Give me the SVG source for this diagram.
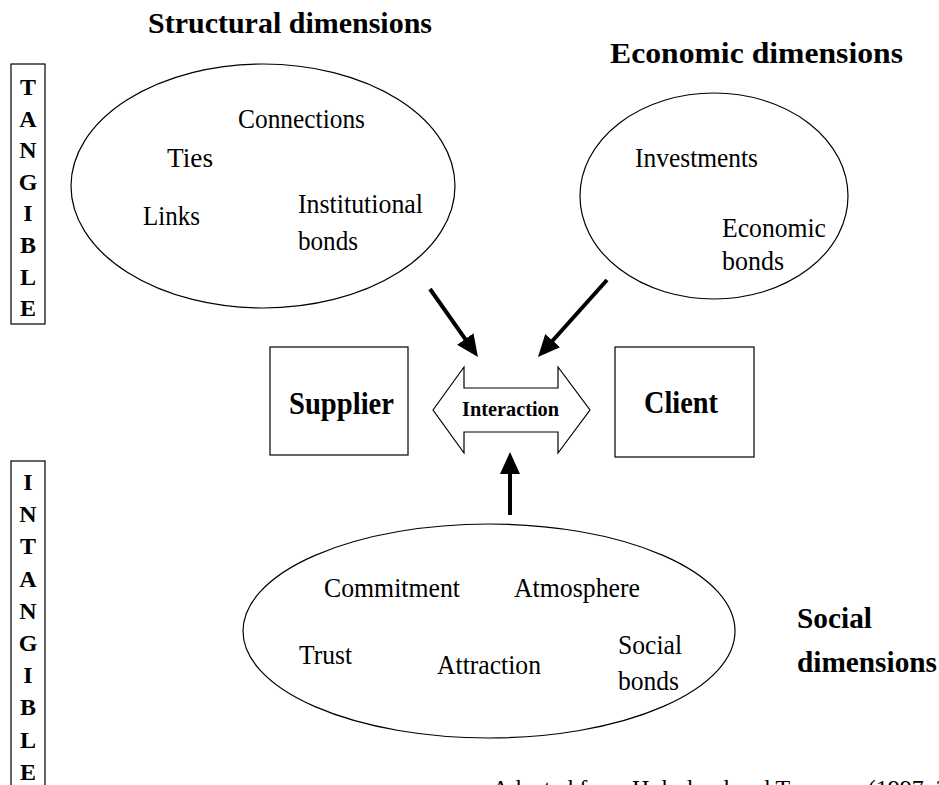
<svg xmlns="http://www.w3.org/2000/svg" width="939" height="785" viewBox="0 0 939 785">
  <style>
    .bg { fill: #ffffff; }
    .shape { fill: #ffffff; stroke: #000000; stroke-width: 1.2; }
    .txt { font-family: "Liberation Serif", "Times New Roman", serif; font-size: 28px; fill: #000000; }
    .bold { font-family: "Liberation Serif", "Times New Roman", serif; font-weight: bold; fill: #000000; }
    .head { font-size: 30px; }
    .box { font-size: 31px; }
    .side { font-size: 24px; text-anchor: middle; }
    .conn { stroke: #000000; stroke-width: 4; fill: none; }
    .note { font-family: "Liberation Serif", "Times New Roman", serif; font-size: 24px; fill: #000000; }
  </style>
  <defs>
    <marker id="arrowhead" markerUnits="userSpaceOnUse" markerWidth="24" markerHeight="22" refX="12" refY="10" orient="auto">
      <path d="M0,0 L22,10 L0,20 z" fill="#000000"/>
    </marker>
  </defs>

  <rect class="bg" x="0" y="0" width="939" height="785"/>

  <!-- side labels -->
  <g id="tangible">
    <rect class="shape" x="11" y="64" width="34" height="260"/>
    <text class="bold side" x="28" y="95">T</text>
    <text class="bold side" x="28" y="126.6">A</text>
    <text class="bold side" x="28" y="158.2">N</text>
    <text class="bold side" x="28" y="189.8">G</text>
    <text class="bold side" x="28" y="221.4">I</text>
    <text class="bold side" x="28" y="253">B</text>
    <text class="bold side" x="28" y="284.6">L</text>
    <text class="bold side" x="28" y="316.2">E</text>
  </g>

  <g id="intangible">
    <rect class="shape" x="11" y="461" width="34" height="340"/>
    <text class="bold side" x="28" y="490">I</text>
    <text class="bold side" x="28" y="522.2">N</text>
    <text class="bold side" x="28" y="554.4">T</text>
    <text class="bold side" x="28" y="586.6">A</text>
    <text class="bold side" x="28" y="618.8">N</text>
    <text class="bold side" x="28" y="651">G</text>
    <text class="bold side" x="28" y="683.2">I</text>
    <text class="bold side" x="28" y="715.4">B</text>
    <text class="bold side" x="28" y="747.6">L</text>
    <text class="bold side" x="28" y="779.6">E</text>
  </g>

  <!-- structural dimensions -->
  <g id="structural">
    <text class="bold head" x="148" y="33" textLength="284" lengthAdjust="spacingAndGlyphs">Structural dimensions</text>
    <ellipse class="shape" cx="263" cy="186" rx="192" ry="122"/>
    <text class="txt" x="238" y="128" textLength="127" lengthAdjust="spacingAndGlyphs">Connections</text>
    <text class="txt" x="167" y="167" textLength="46" lengthAdjust="spacingAndGlyphs">Ties</text>
    <text class="txt" x="143" y="225" textLength="57" lengthAdjust="spacingAndGlyphs">Links</text>
    <text class="txt" x="298" y="213" textLength="125" lengthAdjust="spacingAndGlyphs">Institutional</text>
    <text class="txt" x="298" y="250" textLength="60" lengthAdjust="spacingAndGlyphs">bonds</text>
  </g>

  <!-- economic dimensions -->
  <g id="economic">
    <text class="bold head" x="610" y="63" textLength="293" lengthAdjust="spacingAndGlyphs">Economic dimensions</text>
    <ellipse class="shape" cx="714" cy="196" rx="134" ry="103"/>
    <text class="txt" x="635" y="167" textLength="123" lengthAdjust="spacingAndGlyphs">Investments</text>
    <text class="txt" x="722" y="237" textLength="104" lengthAdjust="spacingAndGlyphs">Economic</text>
    <text class="txt" x="722" y="270" textLength="62" lengthAdjust="spacingAndGlyphs">bonds</text>
  </g>

  <!-- parties -->
  <g id="supplier">
    <rect class="shape" x="270" y="347" width="138" height="108"/>
    <text class="bold box" x="289" y="414" textLength="105" lengthAdjust="spacingAndGlyphs">Supplier</text>
  </g>

  <g id="client">
    <rect class="shape" x="615" y="347" width="139" height="110"/>
    <text class="bold box" x="644" y="413" textLength="74" lengthAdjust="spacingAndGlyphs">Client</text>
  </g>

  <g id="interaction">
    <polygon class="shape" points="433,410 464,367 464,388 558,388 558,367 590,410 558,453 558,432 464,432 464,453"/>
    <text class="bold" x="462" y="416" font-size="21" textLength="97" lengthAdjust="spacingAndGlyphs">Interaction</text>
  </g>

  <!-- social dimensions -->
  <g id="social">
    <ellipse class="shape" cx="489" cy="631" rx="246" ry="107"/>
    <text class="txt" x="324" y="597" textLength="136" lengthAdjust="spacingAndGlyphs">Commitment</text>
    <text class="txt" x="514" y="597" textLength="126" lengthAdjust="spacingAndGlyphs">Atmosphere</text>
    <text class="txt" x="299" y="664" textLength="53" lengthAdjust="spacingAndGlyphs">Trust</text>
    <text class="txt" x="437" y="674" textLength="104" lengthAdjust="spacingAndGlyphs">Attraction</text>
    <text class="txt" x="618" y="654" textLength="64" lengthAdjust="spacingAndGlyphs">Social</text>
    <text class="txt" x="618" y="690" textLength="61" lengthAdjust="spacingAndGlyphs">bonds</text>
    <text class="bold head" x="797" y="628" textLength="75" lengthAdjust="spacingAndGlyphs">Social</text>
    <text class="bold head" x="797" y="672" textLength="140" lengthAdjust="spacingAndGlyphs">dimensions</text>
  </g>

  <!-- influences on the interaction -->
  <g id="connectors">
    <line class="conn" x1="430" y1="289" x2="472.2" y2="348.8" marker-end="url(#arrowhead)"/>
    <line class="conn" x1="607" y1="280" x2="544.7" y2="349.5" marker-end="url(#arrowhead)"/>
    <line class="conn" x1="510" y1="515" x2="510" y2="462" stroke-width="3" marker-end="url(#arrowhead)"/>
  </g>

  <text class="note" x="492" y="796">Adapted from Holmlund and Tornroos (1997, 20</text>
</svg>
